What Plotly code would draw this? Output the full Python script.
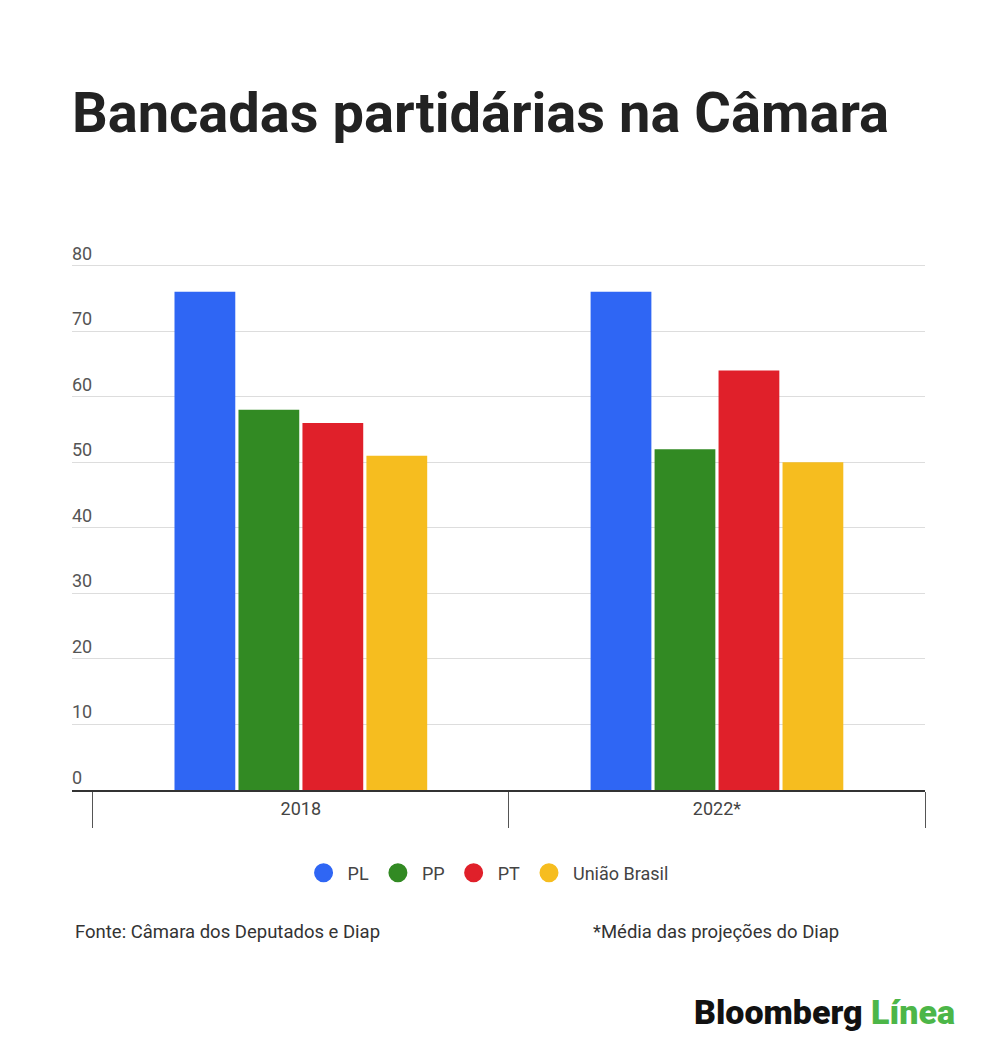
import plotly.graph_objects as go

# bancadas por partido (número de deputados)
anos = ["2018", "2022*"]
partidos = ["PL", "PP", "PT", "União Brasil"]
cores = ["#2f66f4", "#328a23", "#e0202a", "#f6bd1f"]
valores = {
    "PL": [76, 76],
    "PP": [58, 52],
    "PT": [56, 64],
    "União Brasil": [51, 50],
}
y_ticks = [0, 10, 20, 30, 40, 50, 60, 70, 80]

fig = go.Figure()

for partido, cor in zip(partidos, cores):
    fig.add_trace(go.Bar(
        x=anos,
        y=valores[partido],
        name=partido,
        marker=dict(color=cor, line=dict(width=0)),
        showlegend=False,
        hoverinfo="y+name",
    ))
    # circles for the legend only
    fig.add_trace(go.Scatter(
        x=[None], y=[None],
        mode="markers",
        name=partido,
        marker=dict(color=cor, size=18, symbol="circle", line=dict(color=cor, width=3)),
        showlegend=True,
    ))

# page body has an 8px margin, so the figure is a bit smaller than the window
fig.update_layout(
    width=992,
    height=1047,
    paper_bgcolor="white",
    plot_bgcolor="white",
    font=dict(family="Roboto", color="#444444", size=18),
    margin=dict(l=64, r=75, t=255, b=265),
    barmode="group",
    bargap=0.385,
    bargroupgap=0.05,
    showlegend=True,
    legend=dict(
        orientation="h",
        x=0.486, xanchor="center",
        y=-0.1575, yanchor="middle",
        font=dict(size=18, color="#444444"),
        itemsizing="trace",
        itemwidth=38,
        bgcolor="rgba(0,0,0,0)",
    ),
    title=dict(
        text="<b>Bancadas partidárias na Câmara</b>",
        xref="paper", x=0, xanchor="left",
        y=0.9007, yanchor="middle",
        font=dict(family="Roboto", size=56, color="#222222"),
    ),
)

fig.update_xaxes(
    type="category",
    range=[-0.55, 1.5],
    showgrid=False,
    showline=True,
    linecolor="#333333",
    linewidth=2,
    ticks="outside",
    tickson="boundaries",
    ticklen=36,
    tickcolor="#555555",
    tickwidth=1,
    tickfont=dict(size=18, color="#444444"),
    ticklabelstandoff=1,
    fixedrange=True,
)

fig.update_yaxes(
    range=[0, 80.4],
    tickvals=y_ticks,
    showgrid=True,
    gridcolor="#dddddd",
    gridwidth=1,
    zeroline=False,
    showline=False,
    ticks="",
    showticklabels=False,
    fixedrange=True,
)

# y labels sit above their gridlines
for v in y_ticks:
    fig.add_annotation(
        text=str(v),
        xref="paper", yref="y",
        x=-0.002, y=v,
        xanchor="left", yanchor="bottom",
        showarrow=False,
        font=dict(size=18, color="#555555"),
    )

fig.add_annotation(
    text="Fonte: Câmara dos Deputados e Diap",
    xref="paper", yref="paper",
    x=0.001, y=-0.2694,
    xanchor="left", yanchor="middle",
    showarrow=False,
    font=dict(size=18.5, color="#333333"),
)
fig.add_annotation(
    text="*Média das projeções do Diap",
    xref="paper", yref="paper",
    x=0.609, y=-0.2694,
    xanchor="left", yanchor="middle",
    showarrow=False,
    font=dict(size=18.5, color="#333333"),
)
fig.add_annotation(
    text="Bloomberg <span style='color:#4cb648'>Línea</span>",
    xref="paper", yref="paper",
    x=1.037, y=-0.4213,
    xanchor="right", yanchor="middle",
    showarrow=False,
    font=dict(family="Roboto", size=34, color="#111111", weight=900),
)

fig.write_html("out.html")
